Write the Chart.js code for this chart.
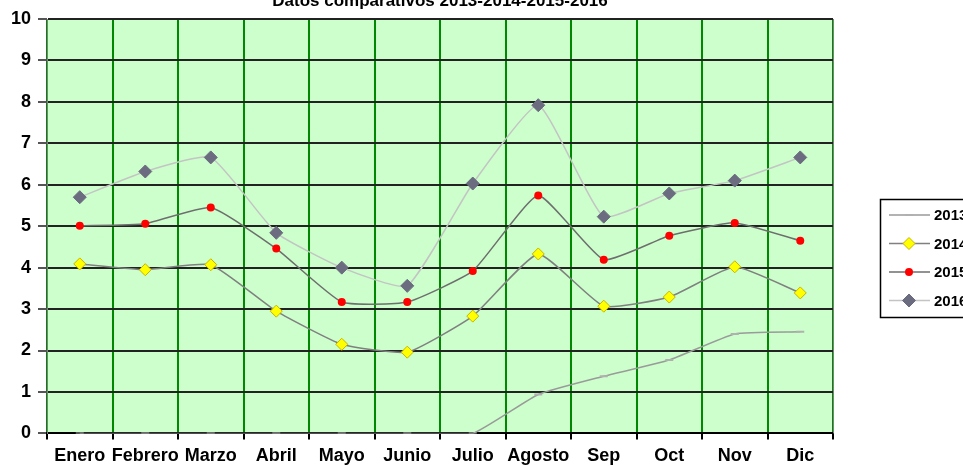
<!DOCTYPE html>
<html>
<head>
<meta charset="utf-8">
<script src="https://cdn.jsdelivr.net/npm/chart.js@4/dist/chart.umd.min.js"></script>
<style>
  html, body { margin: 0; padding: 0; overflow: hidden; background: #fff; }
  #wrap { width: 990px; height: 473px; }
</style>
</head>
<body>
<div id="wrap"><canvas id="grafico" width="990" height="473"></canvas></div>
<script>
// datos
const meses = ['Enero', 'Febrero', 'Marzo', 'Abril', 'Mayo', 'Junio', 'Julio', 'Agosto', 'Sep', 'Oct', 'Nov', 'Dic'];
const serie2013 = [0, 0, 0, 0, 0, 0, 0, 0.94, 1.38, 1.77, 2.4, 2.45];
const serie2014 = [4.09, 3.95, 4.07, 2.95, 2.15, 1.96, 2.83, 4.33, 3.07, 3.29, 4.02, 3.39];
const serie2015 = [5.01, 5.06, 5.45, 4.46, 3.17, 3.17, 3.92, 5.74, 4.19, 4.77, 5.08, 4.65];
const serie2016 = [5.7, 6.32, 6.66, 4.84, 4.0, 3.56, 6.03, 7.92, 5.23, 5.79, 6.1, 6.66];
const titulo = 'Datos comparativos 2013-2014-2015-2016';
const yMin = 0, yMax = 10, yPaso = 1;

const fuente = '"Liberation Sans", Arial, sans-serif';

// fondo verde del area de trazado
const fondoPlugin = {
    id: 'fondo',
    beforeDraw(chart) {
        const { ctx, chartArea: a } = chart;
        ctx.save();
        ctx.fillStyle = '#ccffcc';
        ctx.fillRect(a.left, a.top, a.right - a.left, a.bottom - a.top);
        ctx.restore();
    }
};

function marcador(ctx, estilo, x, y, ds) {
    ctx.save();
    ctx.fillStyle = ds.pointBackgroundColor;
    ctx.strokeStyle = ds.pointBorderColor;
    ctx.lineWidth = 1;
    const r = ds.pointRadius;
    ctx.beginPath();
    if (estilo === 'rectRot') {
        ctx.moveTo(x, y - r); ctx.lineTo(x + r, y); ctx.lineTo(x, y + r); ctx.lineTo(x - r, y); ctx.closePath();
        ctx.fill(); ctx.stroke();
    } else if (estilo === 'circle') {
        ctx.arc(x, y, r, 0, Math.PI * 2);
        ctx.fill();
    } else {
        ctx.moveTo(x - r, y); ctx.lineTo(x + r, y);
        ctx.lineWidth = 2;
        ctx.stroke();
    }
    ctx.restore();
}

// titulo y leyenda con recuadro
const extrasPlugin = {
    id: 'extras',
    afterDraw(chart) {
        const { ctx, chartArea: a } = chart;
        ctx.save();
        // borde gris del area
        ctx.strokeStyle = '#808080';
        ctx.lineWidth = 1;
        ctx.beginPath();
        ctx.moveTo(a.right + 0.5, a.top);
        ctx.lineTo(a.right + 0.5, a.bottom);
        ctx.stroke();

        ctx.fillStyle = '#000';
        ctx.font = 'bold 17px ' + fuente;
        ctx.textAlign = 'center';
        ctx.textBaseline = 'alphabetic';
        ctx.fillText(titulo, (a.left + a.right) / 2, 6);

        // leyenda
        const lx = 880, ly = 199, lw = 120, lh = 118;
        ctx.fillStyle = '#fff';
        ctx.fillRect(lx, ly, lw, lh);
        ctx.strokeStyle = '#000';
        ctx.lineWidth = 1.5;
        ctx.strokeRect(lx + 0.5, ly + 0.5, lw, lh);
        chart.data.datasets.forEach((ds, i) => {
            const y = 215 + i * 28.5;
            ctx.strokeStyle = ds.borderColor;
            ctx.lineWidth = 1.5;
            ctx.beginPath();
            ctx.moveTo(889, y);
            ctx.lineTo(930, y);
            ctx.stroke();
            marcador(ctx, ds.pointStyle, 909, y, ds);
            ctx.fillStyle = '#000';
            ctx.font = 'bold 15px ' + fuente;
            ctx.textAlign = 'left';
            ctx.textBaseline = 'middle';
            ctx.fillText(ds.label, 934, y + 1);
        });
        ctx.restore();
    }
};

const ctx = document.getElementById('grafico').getContext('2d');

new Chart(ctx, {
    type: 'line',
    data: {
        labels: meses,
        datasets: [
            {
                label: '2013',
                data: serie2013,
                borderColor: '#9a9a9a',
                borderWidth: 1.5,
                pointStyle: 'line',
                pointRadius: 4,
                pointBackgroundColor: '#9a9a9a',
                pointBorderColor: '#b0b0b0',
                pointBorderWidth: 2,
                tension: 0.15
            },
            {
                label: '2014',
                data: serie2014,
                borderColor: '#808080',
                borderWidth: 1.5,
                pointStyle: 'rectRot',
                pointRadius: 6,
                pointBackgroundColor: '#ffff00',
                pointBorderColor: '#c8b400',
                pointBorderWidth: 1,
                tension: 0.15
            },
            {
                label: '2015',
                data: serie2015,
                borderColor: '#6e6e6e',
                borderWidth: 1.5,
                pointStyle: 'circle',
                pointRadius: 4,
                pointBackgroundColor: '#ff0000',
                pointBorderColor: '#ff0000',
                pointBorderWidth: 0,
                tension: 0.15
            },
            {
                label: '2016',
                data: serie2016,
                borderColor: '#c4c4c4',
                borderWidth: 1.5,
                pointStyle: 'rectRot',
                pointRadius: 6.5,
                pointBackgroundColor: '#6c6c80',
                pointBorderColor: '#6c6c80',
                pointBorderWidth: 1,
                tension: 0.15
            }
        ]
    },
    options: {
        responsive: false,
        animation: false,
        layout: { padding: { top: 19, right: 157, left: 4, bottom: 0 } },
        plugins: {
            legend: { display: false },
            title: { display: false },
            tooltip: { enabled: false }
        },
        scales: {
            x: {
                offset: true,
                grid: {
                    offset: true,
                    color: '#008800',
                    lineWidth: 2,
                    tickColor: '#000',
                    tickLength: 6
                },
                border: { color: '#000', width: 2 },
                ticks: {
                    color: '#000',
                    font: { family: fuente, size: 18, weight: 'bold' },
                    maxRotation: 0,
                    autoSkip: false,
                    padding: 6
                }
            },
            y: {
                min: yMin,
                max: yMax,
                grid: {
                    color: '#222',
                    lineWidth: 2,
                    tickColor: '#555',
                    tickLength: 9
                },
                border: { color: '#808080', width: 1 },
                ticks: {
                    stepSize: yPaso,
                    color: '#000',
                    font: { family: fuente, size: 18, weight: 'bold' },
                    padding: 7
                }
            }
        }
    },
    plugins: [fondoPlugin, extrasPlugin]
});
</script>
</body>
</html>
